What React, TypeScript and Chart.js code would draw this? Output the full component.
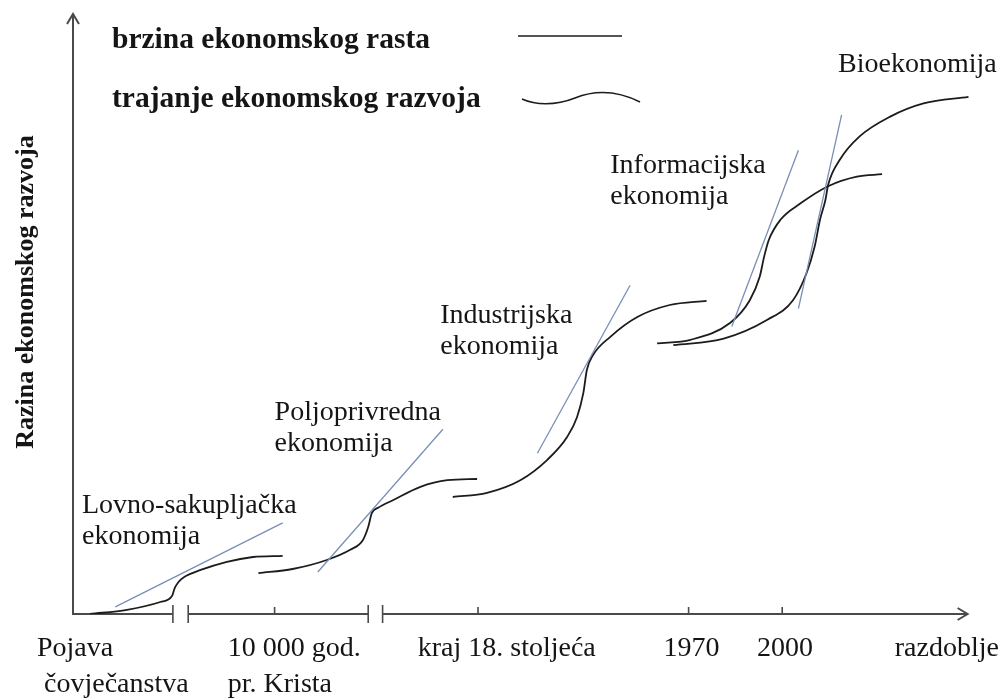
import React, { useEffect, useRef } from "react";
import { Chart, registerables } from "chart.js";

Chart.register(...registerables);

// ---------- DATA (schematic units: x = time 0..100, y = level 0..100) ----------
// "trajanje ekonomskog razvoja" – S-curves of each economy
const lovnoCurve = [[1.9, 0], [6.0, 0.7], [9.7, 2.0], [11.0, 3.0], [11.3, 4.3], [11.7, 5.3], [12.4, 6.2], [14.1, 7.3], [17.1, 8.7], [20.0, 9.5], [23.3, 9.7]];
const poljoCurve = [[20.6, 6.8], [24.4, 7.5], [28.2, 9.0], [30.8, 10.7], [32.2, 12.3], [32.8, 14.5], [33.2, 16.8], [33.9, 17.7], [35.6, 19.0], [38.6, 21.2], [41.6, 22.3], [44.9, 22.5]];
const industCurve = [[42.2, 19.5], [46.0, 20.2], [49.7, 22.3], [52.7, 25.7], [54.9, 29.5], [56.0, 32.8], [56.7, 36.8], [57.1, 40.7], [57.8, 43.2], [59.7, 46.2], [62.7, 49.5], [66.3, 51.5], [70.4, 52.2]];
const infoCurve = [[64.9, 45.1], [68.6, 45.7], [73.0, 48.5], [75.2, 52.3], [76.3, 56.2], [76.8, 59.6], [77.3, 62.3], [78.6, 65.7], [80.8, 68.4], [83.9, 71.3], [87.1, 72.9], [89.9, 73.3]];
const bioCurve = [[66.7, 44.8], [72.3, 45.9], [77.1, 49.0], [80.0, 52.3], [81.5, 56.8], [82.4, 61.2], [83.0, 65.7], [83.6, 69.0], [83.9, 71.5], [85.2, 75.7], [87.4, 79.6], [90.8, 82.9], [94.5, 85.1], [99.5, 86.2]];

// "brzina ekonomskog rasta" – straight growth-rate lines
const lovnoRate = [[4.7, 1.2], [23.3, 15.2]];
const poljoRate = [[27.2, 7.0], [41.1, 30.8]];
const industRate = [[51.6, 26.8], [61.9, 54.8]];
const infoRate = [[73.2, 47.9], [80.6, 77.3]];
const bioRate = [[80.6, 50.9], [85.4, 83.2]];

// Time axis
const breakTicks = [11.1, 12.8, 32.8, 34.4];
const periodTicks = [22.4, 45.0, 68.4, 78.8];
const periodLabels = [["Pojava", " čovječanstva"], ["10 000 god.", "pr. Krista"], ["kraj 18. stoljeća"], ["1970"], ["2000"], ["razdoblje"]];
const periodLabelX = [-4.0, 17.2, 38.3, 65.6, 76.0, 91.3];
const X_AXIS_END = 99.4;
const Y_AXIS_END = 100;

// Economy labels
const economyNames = [["Lovno-sakupljačka", "ekonomija"], ["Poljoprivredna", "ekonomija"], ["Industrijska", "ekonomija"], ["Informacijska", "ekonomija"], ["Bioekonomija"]];
const economyLabelX = [1.0, 22.4, 40.8, 59.7, 85.0];
const economyLabelY = [16.8, 32.3, 48.5, 73.5, 90.3];

const legendLabels = ["brzina ekonomskog rasta", "trajanje ekonomskog razvoja"];
const yTitle = "Razina ekonomskog razvoja";

// ---------- STYLE ----------
const CURVE_COLOR = "#1c1c1c";
const RATE_COLOR = "#7a8eb7";
const AXIS_COLOR = "#4a4a4a";
const TEXT_COLOR = "#151515";
const SERIF = '"Liberation Serif", "Times New Roman", serif';

const toPts = (a: number[][]) => a.map(([x, y]) => ({ x, y }));

const overlayPlugin = {
  id: "overlay",
  beforeDatasetsDraw(chart: any) {
    const ctx: CanvasRenderingContext2D = chart.ctx;
    const xs = chart.scales.x;
    const ys = chart.scales.y;
    const X = (v: number) => xs.getPixelForValue(v);
    const Y = (v: number) => ys.getPixelForValue(v);
    const x0 = X(0);
    const y0 = Y(0);
    ctx.save();
    ctx.strokeStyle = AXIS_COLOR;
    ctx.lineWidth = 2;
    ctx.lineCap = "butt";
    // y axis
    ctx.beginPath();
    ctx.moveTo(x0, y0 + 1);
    ctx.lineTo(x0, Y(Y_AXIS_END));
    ctx.stroke();
    const yt = Y(Y_AXIS_END);
    ctx.beginPath();
    ctx.moveTo(x0 - 6, yt + 10);
    ctx.lineTo(x0, yt);
    ctx.lineTo(x0 + 6, yt + 10);
    ctx.stroke();
    // x axis (broken)
    const segs = [[0, breakTicks[0]], [breakTicks[1], breakTicks[2]], [breakTicks[3], X_AXIS_END]];
    ctx.beginPath();
    segs.forEach(([a, b]) => {
      ctx.moveTo(X(a) - (a === 0 ? 1 : 0), y0);
      ctx.lineTo(X(b), y0);
    });
    ctx.stroke();
    const xt = X(X_AXIS_END);
    ctx.beginPath();
    ctx.moveTo(xt - 10, y0 - 6);
    ctx.lineTo(xt, y0);
    ctx.lineTo(xt - 10, y0 + 6);
    ctx.stroke();
    // ticks
    ctx.lineWidth = 1.6;
    ctx.beginPath();
    breakTicks.forEach((t) => {
      ctx.moveTo(X(t), y0 - 9);
      ctx.lineTo(X(t), y0 + 9);
    });
    periodTicks.forEach((t) => {
      ctx.moveTo(X(t), y0 - 7);
      ctx.lineTo(X(t), y0);
    });
    ctx.stroke();
    ctx.restore();
  },
  afterDraw(chart: any) {
    const ctx: CanvasRenderingContext2D = chart.ctx;
    const xs = chart.scales.x;
    const ys = chart.scales.y;
    const X = (v: number) => xs.getPixelForValue(v);
    const Y = (v: number) => ys.getPixelForValue(v);
    const y0 = Y(0);
    ctx.save();
    ctx.fillStyle = TEXT_COLOR;
    ctx.textBaseline = "alphabetic";
    ctx.textAlign = "left";
    // period labels
    ctx.font = `28px ${SERIF}`;
    periodLabels.forEach((lines, i) => {
      lines.forEach((ln, j) => {
        ctx.fillText(ln, X(periodLabelX[i]), y0 + 42 + j * 36);
      });
    });
    // economy labels
    economyNames.forEach((lines, i) => {
      lines.forEach((ln, j) => {
        ctx.fillText(ln, X(economyLabelX[i]), Y(economyLabelY[i]) + j * 31);
      });
    });
    // legend
    ctx.font = `bold 29.5px ${SERIF}`;
    ctx.fillText(legendLabels[0], 112, 48);
    ctx.fillText(legendLabels[1], 112, 107);
    ctx.strokeStyle = CURVE_COLOR;
    ctx.lineWidth = 1.6;
    ctx.beginPath();
    ctx.moveTo(518, 36);
    ctx.lineTo(622, 36);
    ctx.stroke();
    ctx.beginPath();
    ctx.moveTo(522, 99);
    ctx.bezierCurveTo(535, 105, 555, 106, 575, 98);
    ctx.bezierCurveTo(595, 90, 618, 91, 640, 102);
    ctx.stroke();
    // y title
    ctx.save();
    ctx.translate(X(0) - 40, chart.chartArea.top + 278);
    ctx.rotate(-Math.PI / 2);
    ctx.textAlign = "center";
    ctx.font = `bold 26px ${SERIF}`;
    ctx.fillText(yTitle, 0, 0);
    ctx.restore();
    ctx.restore();
  },
};

export default function App() {
  const ref = useRef<HTMLCanvasElement | null>(null);
  useEffect(() => {
    if (!ref.current) return;
    const curve = (d: number[][]) => ({
      data: toPts(d),
      borderColor: CURVE_COLOR,
      borderWidth: 1.8,
      pointRadius: 0,
      cubicInterpolationMode: "monotone" as const,
      fill: false,
    });
    const rate = (d: number[][]) => ({
      data: toPts(d),
      borderColor: RATE_COLOR,
      borderWidth: 1.3,
      pointRadius: 0,
      tension: 0,
      fill: false,
    });
    const chart = new Chart(ref.current, {
      type: "line",
      data: {
        datasets: [
          rate(lovnoRate), rate(poljoRate), rate(industRate), rate(infoRate), rate(bioRate),
          curve(lovnoCurve), curve(poljoCurve), curve(industCurve), curve(infoCurve), curve(bioCurve),
        ] as any,
      },
      options: {
        animation: false,
        responsive: false,
        devicePixelRatio: 1,
        layout: { padding: { left: 73, right: 30, top: 14, bottom: 84 } },
        scales: {
          x: { type: "linear", min: 0, max: 100, display: false },
          y: { type: "linear", min: 0, max: 100, display: false },
        },
        plugins: { legend: { display: false }, tooltip: { enabled: false } },
      },
      plugins: [overlayPlugin],
    });
    return () => chart.destroy();
  }, []);
  return (
    <div style={{ position: "absolute", left: 0, top: 0, width: 1003, height: 698, background: "#fff" }}>
      <canvas ref={ref} width={1003} height={698} style={{ display: "block" }} />
    </div>
  );
}
